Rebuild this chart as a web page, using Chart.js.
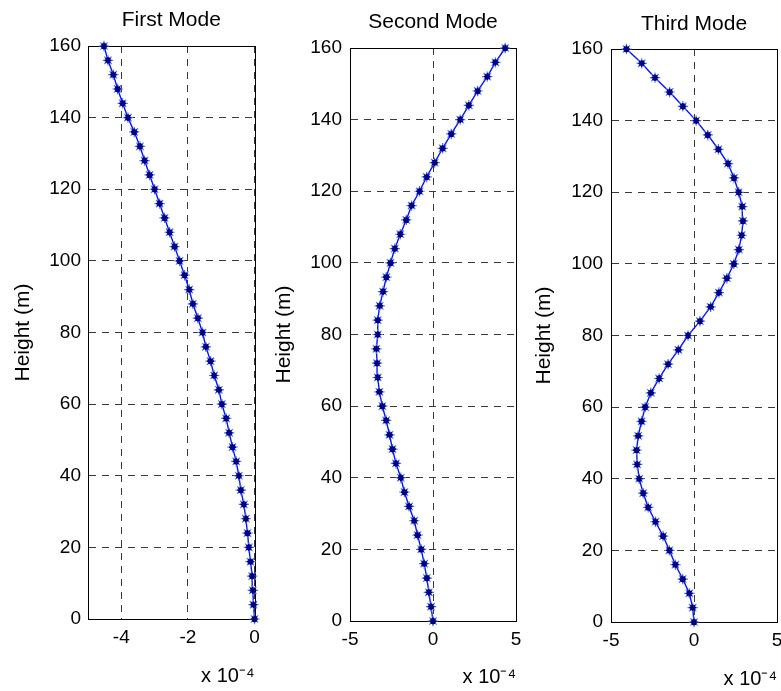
<!DOCTYPE html>
<html><head><meta charset="utf-8">
<script src="https://cdn.jsdelivr.net/npm/chart.js@4.4.1/dist/chart.umd.min.js"></script>
<style>
html,body{margin:0;padding:0;background:#fff;overflow:hidden;width:781px;height:691px;position:relative;}
canvas{position:absolute;top:0;}
</style></head><body>
<canvas id="c1" width="276" height="691" style="left:0px"></canvas>
<canvas id="c2" width="276" height="691" style="left:262px"></canvas>
<canvas id="c3" width="280" height="691" style="left:524px"></canvas>
<script>
// Heights (m), bottom to top
const heights = [0,4,8,12,16,20,24,28,32,36,40,44,48,52,56,60,64,68,72,76,80,84,88,92,96,100,104,108,112,116,120,124,128,132,136,140,144,148,152,156,160];
// Mode shape values (x 10^-4)
const firstMode = [0,-0.03,-0.05,-0.07,-0.12,-0.17,-0.21,-0.26,-0.32,-0.41,-0.47,-0.55,-0.66,-0.76,-0.85,-0.98,-1.07,-1.21,-1.32,-1.46,-1.56,-1.70,-1.85,-1.96,-2.10,-2.25,-2.40,-2.55,-2.70,-2.85,-3.00,-3.15,-3.30,-3.44,-3.61,-3.80,-3.96,-4.11,-4.24,-4.40,-4.52];
const secondMode = [0,-0.12,-0.25,-0.37,-0.53,-0.71,-0.93,-1.13,-1.44,-1.72,-1.94,-2.23,-2.44,-2.62,-2.82,-3.05,-3.23,-3.33,-3.37,-3.41,-3.33,-3.33,-3.21,-3.01,-2.81,-2.56,-2.30,-1.97,-1.61,-1.29,-0.81,-0.38,0.10,0.58,1.10,1.64,2.16,2.69,3.27,3.76,4.35];
const thirdMode = [0,-0.08,-0.28,-0.68,-1.12,-1.48,-1.86,-2.32,-2.76,-3.06,-3.30,-3.42,-3.46,-3.36,-3.16,-2.94,-2.60,-2.10,-1.56,-0.94,-0.36,0.36,1.00,1.50,1.98,2.40,2.70,2.87,2.95,2.91,2.69,2.41,2.05,1.47,0.83,0.13,-0.67,-1.47,-2.35,-3.15,-4.07];
const titles = ['First Mode','Second Mode','Third Mode'];
const yTicks = [0,20,40,60,80,100,120,140,160];
const xTicksFirst = [-4,-2,0];
const xTicksOther = [-5,0,5];
const yLabel = 'Height (m)';
const xScaleLabel = 'x 10\u207B\u2074';

const FONT = "'Liberation Sans', Arial, Helvetica, sans-serif";

const boxPlugin = {
  id: 'box',
  beforeDatasetsDraw(chart) {
    const {ctx, chartArea: a} = chart;
    ctx.save();
    ctx.strokeStyle = '#000';
    ctx.lineWidth = 1;
    ctx.setLineDash([]);
    ctx.strokeRect(Math.round(a.left) + 0.5, Math.round(a.top) + 0.5, Math.round(a.right - a.left), Math.round(a.bottom - a.top));
    ctx.restore();
  }
};

function makeChart(id, values, c) {
  const pts = heights.map((h, i) => ({x: values[i], y: h}));
  new Chart(document.getElementById(id), {
    type: 'scatter',
    data: {
      datasets: [
        {data: pts, order: 1, showLine: true, borderColor: '#0a14ff', borderWidth: 1.4, pointStyle: 'star', pointRadius: 5.2,
         pointBorderColor: '#4f7dff', pointBorderWidth: 1.2, pointBackgroundColor: 'transparent', clip: false, tension: 0},
        {data: pts, order: 0, showLine: false, pointStyle: 'star', pointRadius: 3.4, pointBorderColor: '#000080',
         pointBorderWidth: 1.7, pointBackgroundColor: 'transparent', clip: false}
      ]
    },
    options: {
      responsive: false, animation: false, devicePixelRatio: 1,
      layout: {padding: {left: 0, right: c.padRight, top: 0, bottom: 0}},
      plugins: {
        legend: {display: false}, tooltip: {enabled: false},
        title: {display: true, text: c.title, fullSize: false, color: '#000',
                font: {family: FONT, size: 21, weight: 'normal', lineHeight: 1.2},
                padding: {top: c.tpt, bottom: c.tpb}}
      },
      scales: {
        x: {
          type: 'linear', min: c.xmin, max: c.xmax,
          afterBuildTicks: s => { s.ticks = c.xticks.map(v => ({value: v})); },
          afterFit: s => { s.height = c.xh; },
          ticks: {color: '#000', font: {family: FONT, size: 19}, padding: 7, autoSkip: false, maxRotation: 0,
                  callback: v => String(v)},
          grid: {color: '#3a3a3a', lineWidth: 1, drawTicks: false},
          border: {display: true, color: '#000', width: 1, dash: [7, 6]},
          title: {display: true, text: xScaleLabel, align: 'end', color: '#000',
                  font: {family: FONT, size: 20, lineHeight: 1.2}, padding: {top: 0, bottom: c.xtb}}
        },
        y: {
          type: 'linear', min: 0, max: 160,
          afterBuildTicks: s => { s.ticks = yTicks.map(v => ({value: v})); },
          afterFit: s => { s.width = c.yw; },
          ticks: {color: '#000', font: {family: FONT, size: 19}, padding: c.ytp, autoSkip: false,
                  callback: v => String(v)},
          grid: {color: '#3a3a3a', lineWidth: 1, drawTicks: false},
          border: {display: true, color: '#000', width: 1, dash: [7, 6]},
          title: {display: true, text: yLabel, color: '#000',
                  font: {family: FONT, size: 21, lineHeight: 1.2}, padding: {top: c.ytt, bottom: 0}}
        }
      }
    },
    plugins: [boxPlugin]
  });
}

makeChart('c1', firstMode, {title: titles[0], xmin: -5, xmax: 0, xticks: xTicksFirst,
  padRight: 21.5, tpt: 8, tpb: 12.8, xh: 72, xtb: 3, yw: 88, ytp: 7, ytt: 10.5});
makeChart('c2', secondMode, {title: titles[1], xmin: -5, xmax: 5, xticks: xTicksOther,
  padRight: 22, tpt: 10, tpb: 12.8, xh: 70, xtb: 1.5, yw: 88, ytp: 8, ytt: 9.5});
makeChart('c3', thirdMode, {title: titles[2], xmin: -5, xmax: 5, xticks: xTicksOther,
  padRight: 27, tpt: 11.5, tpb: 12.3, xh: 69, xtb: 0, yw: 87, ytp: 8, ytt: 7.5});
</script>
</body></html>
